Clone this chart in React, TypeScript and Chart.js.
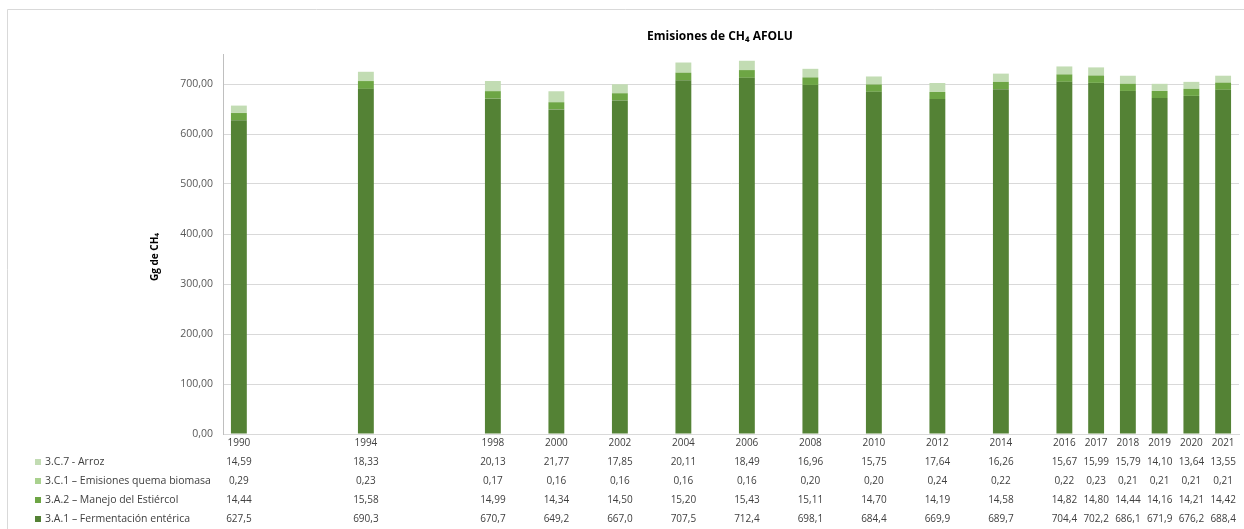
import React, { useEffect, useRef } from "react";
import { Chart, registerables } from "chart.js";

Chart.register(...registerables);

const years = [1990, 1994, 1998, 2000, 2002, 2004, 2006, 2008, 2010, 2012, 2014, 2016, 2017, 2018, 2019, 2020, 2021];

const arroz = [14.59, 18.33, 20.13, 21.77, 17.85, 20.11, 18.49, 16.96, 15.75, 17.64, 16.26, 15.67, 15.99, 15.79, 14.10, 13.64, 13.55];
const quemaBiomasa = [0.29, 0.23, 0.17, 0.16, 0.16, 0.16, 0.16, 0.20, 0.20, 0.24, 0.22, 0.22, 0.23, 0.21, 0.21, 0.21, 0.21];
const manejoEstiercol = [14.44, 15.58, 14.99, 14.34, 14.50, 15.20, 15.43, 15.11, 14.70, 14.19, 14.58, 14.82, 14.80, 14.44, 14.16, 14.21, 14.42];
const fermentacion = [627.5, 690.3, 670.7, 649.2, 667.0, 707.5, 712.4, 698.1, 684.4, 669.9, 689.7, 704.4, 702.2, 686.1, 671.9, 676.2, 688.4];

const seriesLabels = [
  "3.C.7 - Arroz",
  "3.C.1 – Emisiones quema biomasa",
  "3.A.2 – Manejo del Estiércol",
  "3.A.1 – Fermentación entérica",
];

const yTickValues = [0, 100, 200, 300, 400, 500, 600, 700];

const title = "Emisiones de CH₄ AFOLU";
const yTitle = "Gg de CH₄";

const COLORS = {
  fermentacion: "#548235",
  manejo: "#6DA544",
  biomasa: "#A9D18E",
  arroz: "#C2DCB3",
};

const FONT = "'Open Sans', 'Noto Sans', sans-serif";

const fmt = (v: number, d: number) => v.toFixed(d).replace(".", ",");

// Table rows shown under the axis, top to bottom
const tableRows = [
  { label: seriesLabels[0], values: arroz, decimals: 2, color: COLORS.arroz },
  { label: seriesLabels[1], values: quemaBiomasa, decimals: 2, color: COLORS.biomasa },
  { label: seriesLabels[2], values: manejoEstiercol, decimals: 2, color: COLORS.manejo },
  { label: seriesLabels[3], values: fermentacion, decimals: 1, color: COLORS.fermentacion },
];

const toPoints = (vals: number[]) => years.map((y, i) => ({ x: y, y: vals[i] }));

const decorPlugin = {
  id: "afoluDecor",
  beforeDraw(chart: any) {
    const { ctx, width, height } = chart;
    ctx.save();
    ctx.fillStyle = "#ffffff";
    ctx.fillRect(0, 0, width, height);
    // outer frame
    ctx.strokeStyle = "#d9d9d9";
    ctx.lineWidth = 1;
    ctx.beginPath();
    ctx.moveTo(7.5, height);
    ctx.lineTo(7.5, 9.5);
    ctx.lineTo(width, 9.5);
    ctx.stroke();
    ctx.restore();
  },
  afterDraw(chart: any) {
    const { ctx } = chart;
    const xs = chart.scales.x;
    ctx.save();

    // chart title
    ctx.fillStyle = "#000000";
    ctx.font = `bold 12px ${FONT}`;
    ctx.textAlign = "center";
    ctx.textBaseline = "middle";
    ctx.fillText(title, 720, 37);

    // y axis title
    ctx.save();
    ctx.translate(155, 257);
    ctx.rotate(-Math.PI / 2);
    ctx.font = `bold 10px ${FONT}`;
    ctx.fillText(yTitle, 0, 0);
    ctx.restore();

    // year labels
    ctx.fillStyle = "#404040";
    ctx.font = `10px ${FONT}`;
    years.forEach((yr) => {
      ctx.fillText(String(yr), xs.getPixelForValue(yr), 443);
    });

    // data table rows
    const rowY = [462, 481, 500, 519];
    tableRows.forEach((row, r) => {
      const y = rowY[r];
      ctx.fillStyle = row.color;
      ctx.fillRect(35, y - 3, 6, 6);
      ctx.fillStyle = "#404040";
      ctx.textAlign = "left";
      ctx.font = `10.5px ${FONT}`;
      ctx.fillText(row.label, 45, y);
      ctx.textAlign = "center";
      ctx.font = `10px ${FONT}`;
      row.values.forEach((v, i) => {
        ctx.fillText(fmt(v, row.decimals), xs.getPixelForValue(years[i]), y);
      });
    });

    ctx.restore();
  },
};

export default function App() {
  const canvasRef = useRef<HTMLCanvasElement | null>(null);

  useEffect(() => {
    if (!canvasRef.current) return;
    const ds = (label: string, vals: number[], color: string) => ({
      label,
      data: toPoints(vals),
      backgroundColor: color,
      borderWidth: 0,
      categoryPercentage: 1,
      barPercentage: 0.5,
    });
    const chart = new Chart(canvasRef.current, {
      type: "bar",
      data: {
        datasets: [
          ds(seriesLabels[3], fermentacion, COLORS.fermentacion),
          ds(seriesLabels[2], manejoEstiercol, COLORS.manejo),
          ds(seriesLabels[1], quemaBiomasa, COLORS.biomasa),
          ds(seriesLabels[0], arroz, COLORS.arroz),
        ],
      },
      options: {
        responsive: false,
        animation: false,
        layout: { padding: { left: 0, right: 5, top: 54, bottom: 0 } },
        plugins: {
          legend: { display: false },
          title: { display: false },
          tooltip: { enabled: false },
        },
        scales: {
          x: {
            type: "linear",
            stacked: true,
            offset: false,
            min: 1989.5,
            max: 2021.5,
            grid: { display: false, offset: false },
            border: { display: true, color: "#d9d9d9" },
            ticks: { display: false },
            afterFit: (s: any) => {
              s.height = 95;
            },
          },
          y: {
            stacked: true,
            min: 0,
            max: 760,
            afterBuildTicks: (s: any) => {
              s.ticks = yTickValues.map((v) => ({ value: v }));
            },
            grid: { color: "#d9d9d9", drawTicks: false },
            border: { display: true, color: "#bfbfbf" },
            ticks: {
              padding: 10,
              color: "#595959",
              font: { family: FONT, size: 10.5 },
              callback: (v: any) => fmt(Number(v), 2),
            },
            afterFit: (s: any) => {
              s.width = 223;
            },
          },
        },
      },
      plugins: [decorPlugin],
    } as any);
    return () => chart.destroy();
  }, []);

  return (
    <div style={{ position: "absolute", left: 0, top: 0, width: 1244, height: 529, background: "#fff" }}>
      <canvas ref={canvasRef} width={1244} height={529} />
    </div>
  );
}
